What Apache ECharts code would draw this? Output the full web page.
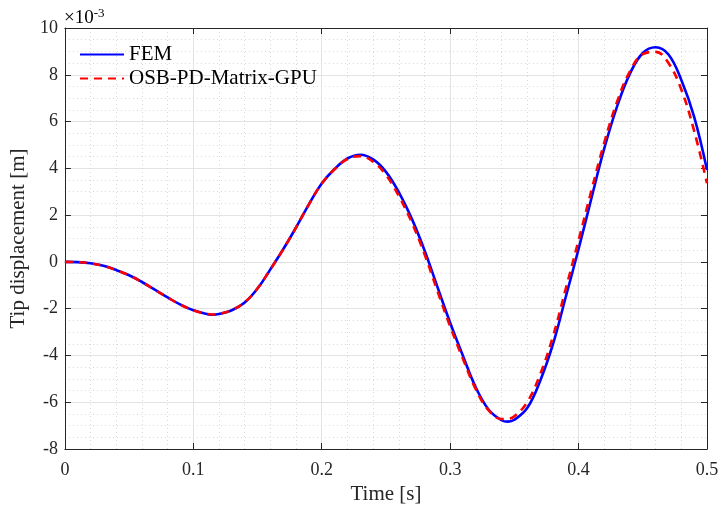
<!DOCTYPE html>
<html>
<head>
<meta charset="utf-8">
<script src="https://cdn.jsdelivr.net/npm/echarts@6/dist/echarts.min.js"></script>
<style>
  html, body { margin: 0; padding: 0; background: #fff; }
  #chart { width: 723px; height: 511px; }
</style>
</head>
<body>
<div id="chart"></div>
<script>
// time [s]
const time = [0, 0.01, 0.02, 0.03, 0.04, 0.05, 0.06, 0.07, 0.08, 0.09,
    0.10, 0.11, 0.115, 0.12, 0.13, 0.14, 0.15, 0.16, 0.17, 0.18, 0.19,
    0.20, 0.21, 0.22, 0.23, 0.24, 0.25, 0.26, 0.27, 0.28, 0.29,
    0.30, 0.31, 0.32, 0.33, 0.34, 0.345, 0.35, 0.36, 0.37, 0.38, 0.39,
    0.40, 0.41, 0.42, 0.43, 0.44, 0.45, 0.46, 0.47, 0.48, 0.49, 0.50];

// tip displacement, x 1e-3 m
const fem = [0, -0.01, -0.06, -0.17, -0.35, -0.57, -0.86, -1.19, -1.52, -1.83,
    -2.07, -2.22, -2.26, -2.23, -2.07, -1.74, -1.14, -0.32, 0.54, 1.47, 2.46,
    3.35, 3.97, 4.42, 4.58, 4.38, 3.85, 2.98, 1.86, 0.5, -1.06,
    -2.6, -4.02, -5.37, -6.32, -6.77, -6.83, -6.75, -6.25, -5.1, -3.53, -1.5,
    0.55, 2.72, 4.85, 6.65, 8.05, 8.93, 9.18, 8.87, 7.78, 6.2, 3.93];

const osb = [0, -0.01, -0.06, -0.17, -0.35, -0.57, -0.86, -1.19, -1.52, -1.83,
    -2.07, -2.22, -2.25, -2.22, -2.06, -1.73, -1.13, -0.32, 0.54, 1.47, 2.46,
    3.35, 3.96, 4.4, 4.52, 4.28, 3.72, 2.82, 1.7, 0.34, -1.23,
    -2.76, -4.15, -5.45, -6.35, -6.72, -6.71, -6.6, -6.0, -4.82, -3.2, -1.15,
    0.92, 3.05, 5.1, 6.85, 8.15, 8.88, 8.98, 8.5, 7.37, 5.6, 3.36];

const seriesNames = ['FEM', 'OSB-PD-Matrix-GPU'];

const chart = echarts.init(document.getElementById('chart'));
const font = 'Liberation Serif';
const axisColor = '#262626';

const pair = (ys) => time.map((t, i) => [t, ys[i]]);

const baseX = {
    type: 'value', min: 0, max: 0.5, interval: 0.1
};
const baseY = {
    type: 'value', min: -8, max: 10, interval: 2
};

chart.setOption({
    animation: false,
    grid: { left: 64, right: 16, top: 28, bottom: 62 },
    legend: {
        orient: 'vertical',
        left: 74, top: 39,
        itemWidth: 44, itemHeight: 12, itemGap: 3,
        itemStyle: { opacity: 0 },
        textStyle: { fontFamily: font, fontSize: 21, color: '#000' },
        data: seriesNames
    },
    graphic: [{
        type: 'text', left: 64, top: 7,
        style: {
            text: '{a|×10}{b|-3}',
            rich: {
                a: { fontFamily: font, fontSize: 19, color: axisColor },
                b: { fontFamily: font, fontSize: 13, color: axisColor, verticalAlign: 'top', padding: [0, 0, 9, 0] }
            }
        }
    }],
    xAxis: [
        Object.assign({}, baseX, {
            name: 'Time [s]', nameLocation: 'middle', nameGap: 35,
            nameTextStyle: { fontFamily: font, fontSize: 21, color: axisColor },
            axisLine: { onZero: false, lineStyle: { color: axisColor, width: 1 } },
            axisTick: { inside: true, length: 6, lineStyle: { color: axisColor } },
            axisLabel: { fontFamily: font, fontSize: 18, color: axisColor, margin: 12,
                formatter: (v) => String(Math.round(v * 10) / 10) },
            splitLine: { show: true, lineStyle: { color: '#e3e3e3', width: 1 } },
            minorTick: { show: false, splitNumber: 5 },
            minorSplitLine: { show: true, lineStyle: { color: '#d8d8d8', width: 1, type: [1, 3] } }
        }),
        Object.assign({}, baseX, {
            position: 'top',
            axisLine: { show: true, onZero: false, lineStyle: { color: axisColor, width: 1 } },
            axisTick: { show: true, inside: true, length: 6, lineStyle: { color: axisColor } },
            axisLabel: { show: false },
            splitLine: { show: false }
        })
    ],
    yAxis: [
        Object.assign({}, baseY, {
            name: 'Tip displacement [m]', nameLocation: 'middle', nameGap: 22,
            nameTextStyle: { fontFamily: font, fontSize: 21, color: axisColor },
            axisLine: { show: true, onZero: false, lineStyle: { color: axisColor, width: 1 } },
            axisTick: { show: true, inside: true, length: 6, lineStyle: { color: axisColor } },
            axisLabel: { fontFamily: font, fontSize: 18, color: axisColor, margin: 7 },
            splitLine: { show: true, lineStyle: { color: '#e3e3e3', width: 1 } },
            minorTick: { show: false, splitNumber: 4 },
            minorSplitLine: { show: true, lineStyle: { color: '#d8d8d8', width: 1, type: [1, 3] } }
        }),
        Object.assign({}, baseY, {
            position: 'right',
            axisLine: { show: true, onZero: false, lineStyle: { color: axisColor, width: 1 } },
            axisTick: { show: true, inside: true, length: 6, lineStyle: { color: axisColor } },
            axisLabel: { show: false },
            splitLine: { show: false }
        })
    ],
    series: [
        {
            name: seriesNames[0], type: 'line', data: pair(fem),
            smooth: 0.4, symbol: 'none', clip: false,
            lineStyle: { color: '#0000ff', width: 2.6 },
            itemStyle: { color: '#0000ff' }
        },
        {
            name: seriesNames[1], type: 'line', data: pair(osb),
            smooth: 0.4, symbol: 'none', clip: false,
            lineStyle: { color: '#ff0000', width: 2.6, type: [8, 6] },
            itemStyle: { color: '#ff0000' }
        }
    ]
});
</script>
</body>
</html>
